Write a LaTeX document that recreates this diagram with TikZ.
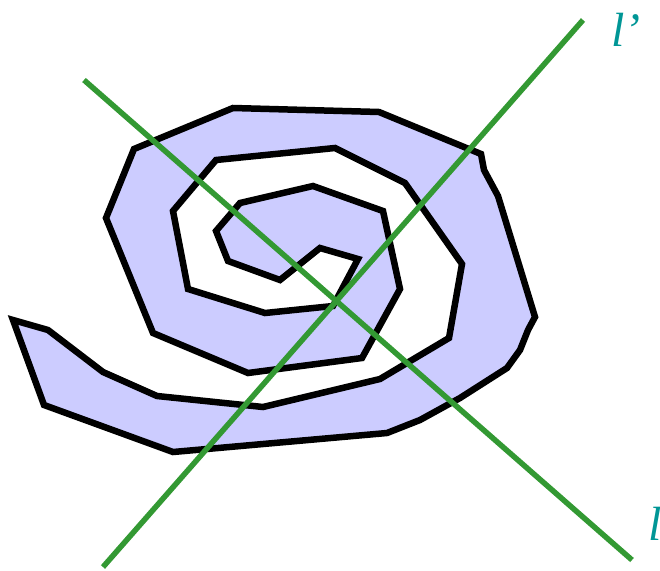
\documentclass[tikz,border=0pt]{standalone}
\usepackage{fontspec}
\setmainfont{Liberation Serif}
\definecolor{spiralfill}{RGB}{204,204,255}
\definecolor{linegreen}{RGB}{51,153,51}
\definecolor{labelteal}{RGB}{0,150,150}
\begin{document}
\begin{tikzpicture}[x=1pt,y=-1pt,
  spiral/.style={draw=black,fill=spiralfill,line width=6.5pt,line join=miter},
  axis/.style={draw=linegreen,line width=5.5pt},
  lbl/.style={text=labelteal,font=\itshape\fontsize{48}{52}\selectfont,inner sep=0pt}]
\useasboundingbox (0,0) rectangle (660,570);
\begin{scope}
\clip (0,0) rectangle (660,570);
\path[spiral] (13,320) -- (48,330) -- (103,372) -- (157,396) -- (263,407) -- (380,379)
  -- (449,338) -- (462,264) -- (405,183) -- (335,148) -- (216,160) -- (173,211)
  -- (188,289) -- (265,313) -- (333,306) -- (358,259) -- (320,248) -- (280,280)
  -- (228,261) -- (216,231) -- (240,203) -- (313,186) -- (383,211) -- (400,289)
  -- (362,358) -- (248,373) -- (153,333) -- (106,218) -- (134,149) -- (233,108)
  -- (379,112) -- (481,154) -- (484,170) -- (498,196) -- (535,317) -- (528,330)
  -- (520,350) -- (507,368) -- (460,398) -- (420,420) -- (387,433) -- (173,452)
  -- (44,405) -- cycle;
\coordinate (a1) at (103,567);
\coordinate (a2) at (583,20);
\coordinate (b1) at (84,80);
\coordinate (b2) at (632,560);
\draw[axis] (a1) -- (a2);
\draw[axis] (b1) -- (b2);
\node[lbl] (lp) at (626,30) {l’};
\node[lbl] (l) at (655,524) {l};
\end{scope}
\end{tikzpicture}
\end{document}
